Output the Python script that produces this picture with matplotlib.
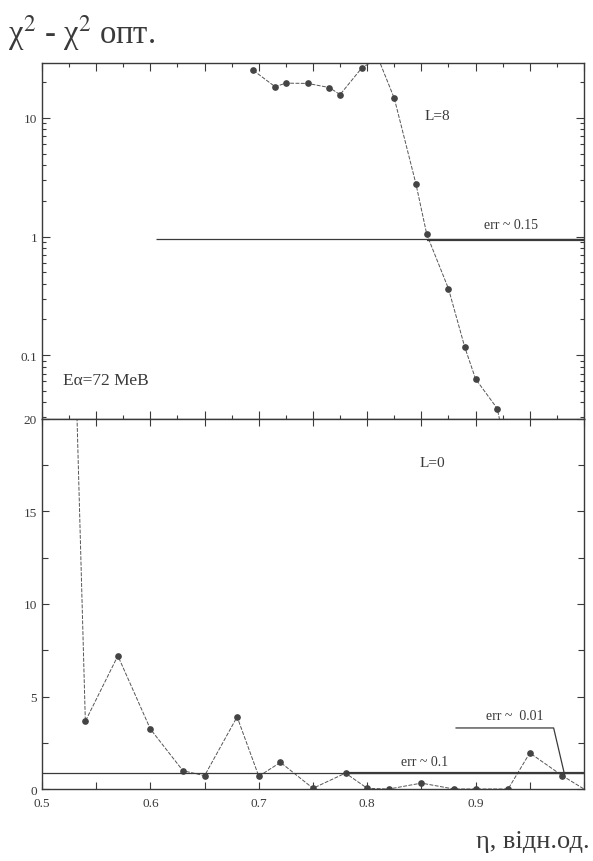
import matplotlib
matplotlib.use("Agg")
import matplotlib.pyplot as plt
import numpy as np
from matplotlib.ticker import LogLocator, NullFormatter, FixedLocator

plt.rcParams['font.family'] = ['Liberation Serif', 'DejaVu Serif']
plt.rcParams['mathtext.fontset'] = 'stix'

# upper panel, L=8 (log scale); points at 0.81 and 0.93 lie off the axes
x8 = [0.695, 0.715, 0.725, 0.745, 0.765, 0.775, 0.795, 0.81, 0.825, 0.845,
      0.855, 0.875, 0.89, 0.90, 0.92, 0.93]
y8 = [25.1, 18.3, 19.6, 19.5, 18.0, 15.7, 26.3, 32.0, 14.6, 2.77,
      1.04, 0.363, 0.117, 0.063, 0.0355, 0.013]
vis8 = [0, 1, 2, 3, 4, 5, 6, 8, 9, 10, 11, 12, 13, 14]

# lower panel, L=0 (linear); first and last points are off the axes
x0 = [0.53, 0.54, 0.57, 0.60, 0.63, 0.65, 0.68, 0.70, 0.72, 0.75, 0.78,
      0.80, 0.82, 0.85, 0.88, 0.90, 0.93, 0.95, 0.98, 1.0]
y0 = [25.0, 3.66, 7.2, 3.24, 0.99, 0.72, 3.9, 0.69, 1.44, 0.04, 0.86,
      0.04, 0.0, 0.32, 0.0, 0.0, 0.0, 1.95, 0.72, 0.0]
vis0 = list(range(1, 19))

err8 = 0.95      # level of "err ~ 0.15"
err0 = 0.85      # level of "err ~ 0.1"
err001_x = [0.882, 0.972, 0.982]
err001_y = [3.3, 3.3, 0.8]

xticks = np.arange(0.5, 1.0001, 0.05)
xlabels = ['0.5', '', '0.6', '', '0.7', '', '0.8', '', '0.9', '', '']

ink = '#3a3a3a'
line_kw = dict(color='#555555', lw=0.7, ls=(0, (4, 1.5)), marker='o',
               ms=3.8, mfc='#444444', mec='#444444')

fig = plt.figure(figsize=(5.93, 8.62), dpi=100)
ax1 = fig.add_axes([0.0708, 0.5128, 0.914, 0.4130])
ax2 = fig.add_axes([0.0708, 0.0835, 0.914, 0.4293])

# ---- upper panel
ax1.plot(x8, y8, markevery=vis8, **line_kw)
ax1.set_yscale('log')
ax1.set_xlim(0.5, 1.0)
ax1.set_ylim(0.029, 29)
ax1.hlines(err8, 0.605, 1.0, color=ink, lw=0.9)
ax1.hlines(err8 * 0.985, 0.855, 1.0, color=ink, lw=1.6)
ax1.text(0.933, 1.12, 'err ~ 0.15', fontsize=10, color=ink, ha='center', va='bottom')
ax1.text(0.865, 10.5, 'L=8', fontsize=11, color=ink, ha='center', va='center')
ax1.text(0.519, 0.062, 'Eα=72 МеВ', fontsize=12.5, color=ink, ha='left', va='center')
ax1.yaxis.set_major_locator(FixedLocator([0.1, 1, 10]))
ax1.set_yticklabels(['0.1', '1', '10'])
ax1.yaxis.set_minor_locator(LogLocator(base=10, subs=np.arange(2, 10)))
ax1.yaxis.set_minor_formatter(NullFormatter())
ax1.set_xticks(np.arange(0.5, 1.0001, 0.05))
ax1.set_xticks(np.arange(0.525, 1.0, 0.05), minor=True)
ax1.set_xticklabels([])
ax1.tick_params(which='both', direction='in', top=True, right=True,
                bottom=True, colors=ink, labelsize=9.5, width=0.8)
ax1.tick_params(which='major', length=6)
ax1.tick_params(which='minor', length=3)

# ---- lower panel
ax2.plot(x0, y0, markevery=vis0, **line_kw)
ax2.set_xlim(0.5, 1.0)
ax2.set_ylim(0, 20)
ax2.hlines(err0, 0.5, 1.0, color=ink, lw=0.9)
ax2.hlines(err0 * 1.05, 0.78, 1.0, color=ink, lw=1.6)
ax2.plot(err001_x, err001_y, color=ink, lw=0.9)
ax2.text(0.853, 1.15, 'err ~ 0.1', fontsize=10, color=ink, ha='center', va='bottom')
ax2.text(0.936, 3.6, 'err ~  0.01', fontsize=10, color=ink, ha='center', va='bottom')
ax2.text(0.86, 17.65, 'L=0', fontsize=11, color=ink, ha='center', va='center')
ax2.set_yticks([0, 5, 10, 15, 20])
ax2.set_yticks(np.arange(2.5, 20, 5), minor=True)
ax2.set_xticks(xticks)
ax2.set_xticklabels(xlabels)
ax2.tick_params(which='both', direction='in', top=True, right=True,
                colors=ink, labelsize=9.5, width=0.8)
ax2.tick_params(which='major', length=5)
ax2.tick_params(which='minor', length=4)
ax2.tick_params(axis='x', pad=6)

for ax in (ax1, ax2):
    for sp in ax.spines.values():
        sp.set_color(ink)
        sp.set_linewidth(1.0)

fig.text(0.013, 0.962, r'χ$^{2}$ - χ$^{2}$ опт.', fontsize=23.5, color=ink,
         ha='left', va='center')
fig.text(0.995, 0.01, 'η, відн.од.', fontsize=19, color=ink,
         ha='right', va='bottom')

fig.savefig('out.png', dpi=100, facecolor='white')
